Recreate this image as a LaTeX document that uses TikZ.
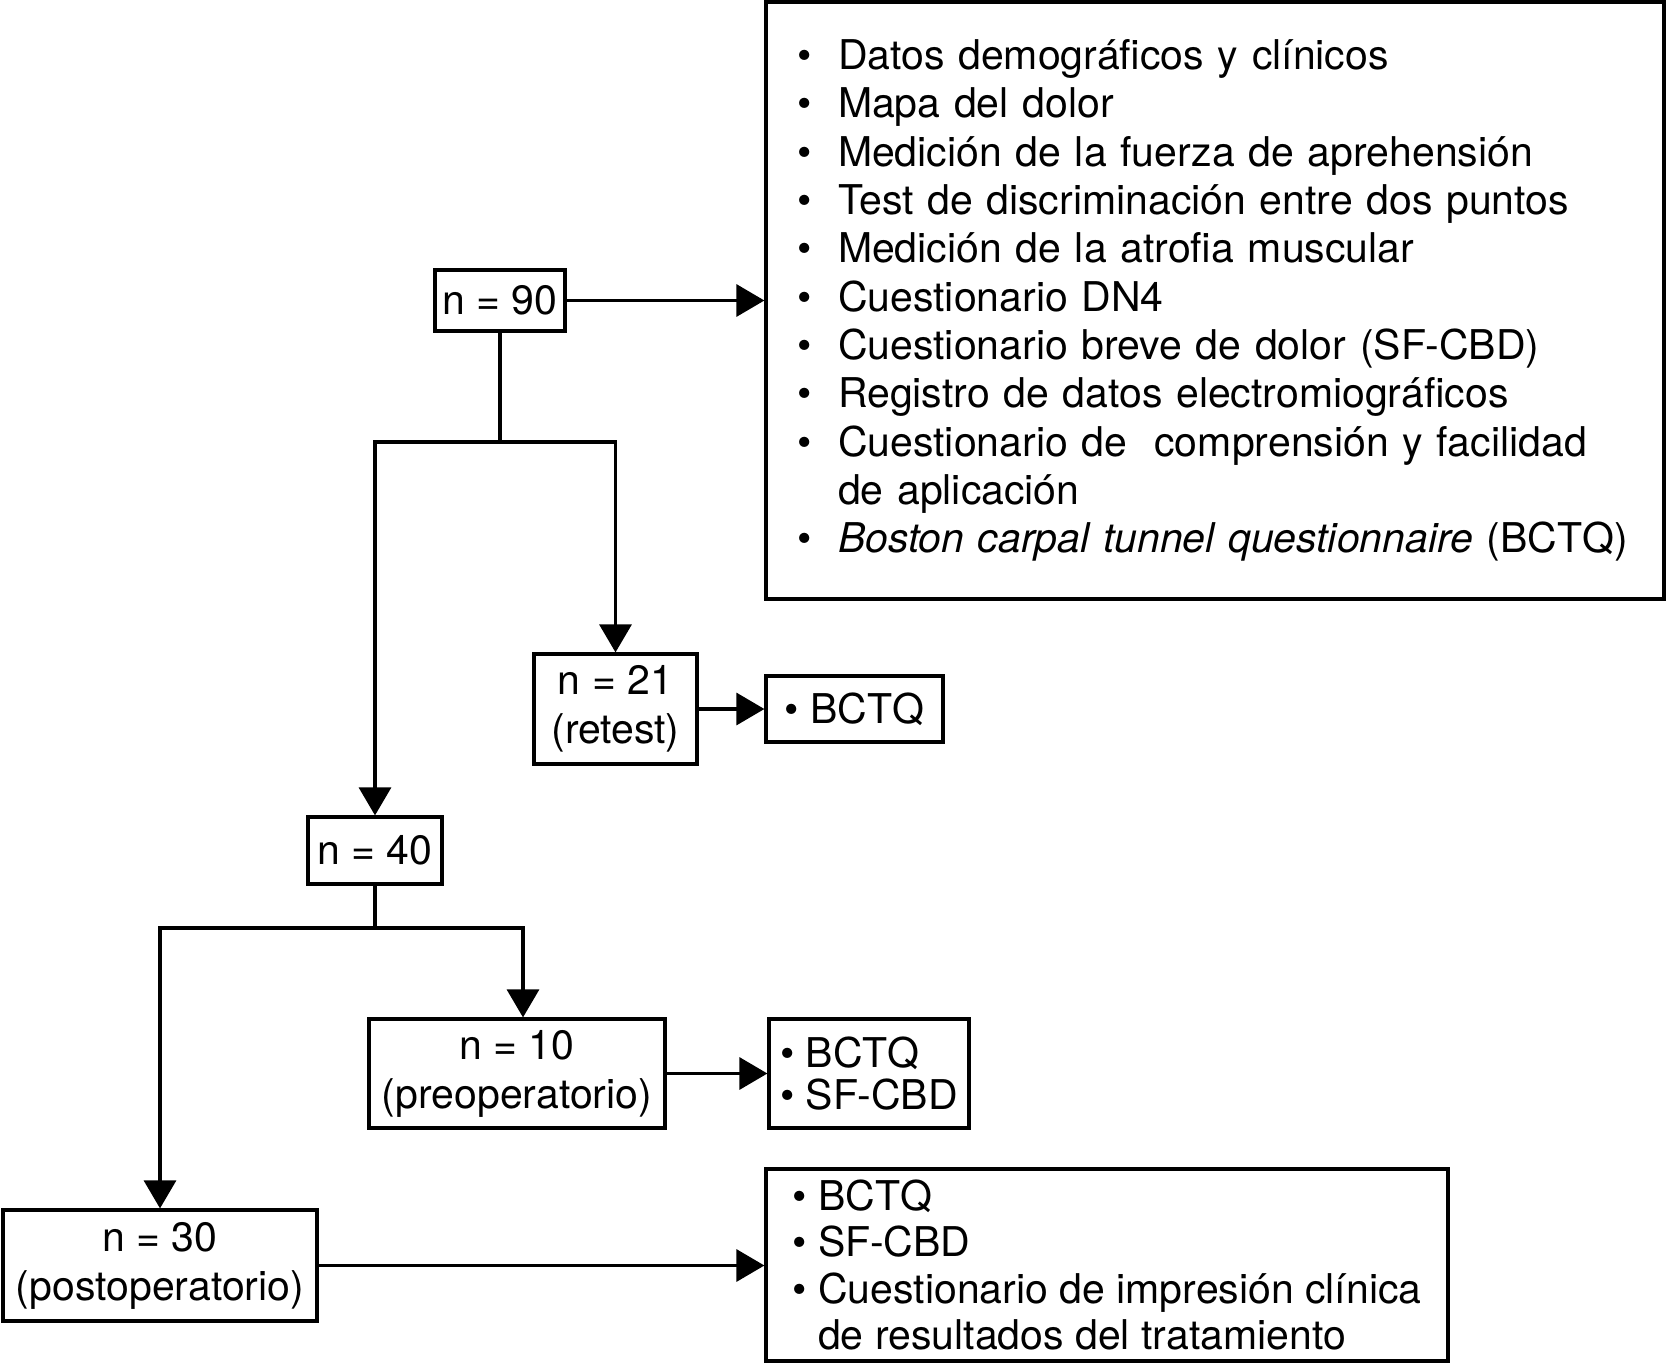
\documentclass[tikz,border=0pt]{standalone}
\usepackage{fontspec}
\setmainfont{TeX Gyre Heros}
\usetikzlibrary{arrows.meta}
\newcommand\bitem[1]{\mbox{\makebox[41pt][l]{\textbullet}#1}}
\begin{document}
\begin{tikzpicture}[x=1pt,y=-1pt,
  box/.style={draw, line width=3.2pt, inner sep=0pt, align=center, font=\fontsize{41}{49}\selectfont},
  lbox/.style={box, align=left},
  conn/.style={line width=3.2pt},
  arr/.style={conn, -{Triangle[length=28pt,width=32pt]}}]
\useasboundingbox (0,0) rectangle (1666,1363);
% population boxes
\node[box, minimum width=130pt, minimum height=61pt] (n90) at (500,300.5) {n = 90};
\node[box, minimum width=163pt, minimum height=110pt] (n21) at (615.5,709) {n = 21\\(retest)};
\node[box, minimum width=134pt, minimum height=67pt] (n40) at (375,850.5) {n = 40};
\node[box, minimum width=296pt, minimum height=109pt] (n10) at (517,1073.5) {n = 10\\(preoperatorio)};
\node[box, minimum width=314pt, minimum height=111pt] (n30) at (160,1265.5) {n = 30\\(postoperatorio)};
% measurement boxes
\node[lbox, text width=836pt, minimum height=597pt, inner xsep=31pt, font=\fontsize{41}{48.3}\selectfont] (list) at (1215,300.5) {%
\bitem{Datos demográficos y clínicos}\\
\bitem{Mapa del dolor}\\
\bitem{Medición de la fuerza de aprehensión}\\
\bitem{Test de discriminación entre dos puntos}\\
\bitem{Medición de la atrofia muscular}\\
\bitem{Cuestionario DN4}\\
\bitem{Cuestionario breve de dolor (SF-CBD)}\\
\bitem{Registro de datos electromiográficos}\\
\bitem{Cuestionario de\ \ comprensión y facilidad}\\
\mbox{\hspace*{41pt}de aplicación}\\
\bitem{\textit{Boston carpal tunnel questionnaire} (BCTQ)}};
\node[lbox, minimum width=177pt, minimum height=66pt] (b21) at (854.5,709) {\textbullet\ BCTQ};
\node[lbox, minimum width=200pt, minimum height=109pt, font=\fontsize{41}{41.4}\selectfont] (b10) at (869,1073.5) {\textbullet\ BCTQ\\\textbullet\ SF-CBD};
\node[lbox, minimum width=682pt, minimum height=192pt, font=\fontsize{41}{46.4}\selectfont] (b30) at (1107,1265) {%
\textbullet\ BCTQ\\
\textbullet\ SF-CBD\\
\textbullet\ Cuestionario de impresión clínica\\
\phantom{\textbullet\ }de resultados del tratamiento};
% junctions
\coordinate (j1) at (500,442);
\coordinate (j2) at (375,928);
% connectors
\draw[arr] (n90.east) -- (list.west |- n90.east);
\draw[conn] (n90.south) -- (j1);
\draw[arr] (j1) -| (n21.north);
\draw[arr] (j1) -| (n40.north);
\draw[arr] (n21.east) -- (b21.west |- n21.east);
\draw[conn] (n40.south) -- (j2);
\draw[arr] (j2) -| ([xshift=6pt]n10.north);
\draw[arr] (j2) -| (n30.north);
\draw[arr] (n10.east) -- (b10.west |- n10.east);
\draw[arr] (n30.east) -- (b30.west |- n30.east);
\end{tikzpicture}
\end{document}
